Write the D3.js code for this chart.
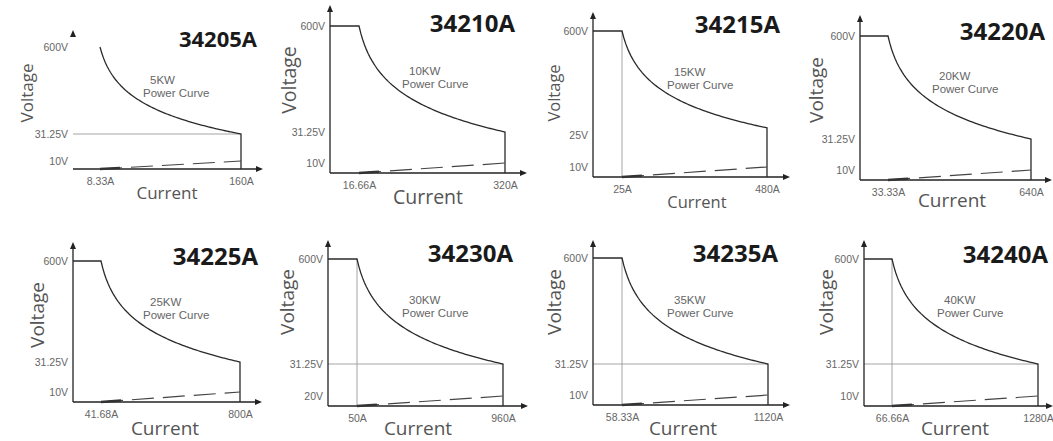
<!DOCTYPE html>
<html><head><meta charset="utf-8">
<script src="https://cdn.jsdelivr.net/npm/d3@7"></script>
<style>
html,body{margin:0;padding:0;background:#fff;}
svg{display:block;}
</style></head><body>
<svg id="chart" width="1053" height="441"></svg>
<script>
// ---- data ----
const models = ["34205A","34210A","34215A","34220A","34225A","34230A","34235A","34240A"];
const powerKW = [5,10,15,20,25,30,35,40];
const topVoltage = [600,600,600,600,600,600,600,600];
const kneeCurrent = [8.33,16.66,25,33.33,41.68,50,58.33,66.66];
const maxCurrent = [160,320,480,640,800,960,1120,1280];
const minVoltage = [31.25,31.25,25,31.25,31.25,31.25,31.25,31.25];
const lowVoltage = [10,10,10,10,10,20,10,10];
const kneeLabels = ["8.33A","16.66A","25A","33.33A","41.68A","50A","58.33A","66.66A"];
const maxLabels = ["160A","320A","480A","640A","800A","960A","1120A","1280A"];
const showMinGrid = [true,false,false,false,false,true,true,true];
const showKneeGrid = [false,false,true,false,false,true,true,true];

// ---- layout (positions & styles only) ----
const layout = [
 {ox:73, ay:169, yTop:47, yMin:134, yLow:161, xKnee:100, xMax:241, tipY:30, tipX:263, titleX:257, titleY:47, titleSize:22, axSize:17, cx:167, cy:199, vx:33, vy:93, pcX:143, kwY:84, yLine:false, flat:false},
 {ox:330, ay:173, yTop:26, yMin:132, yLow:163, xKnee:359, xMax:505, tipY:5, tipX:527, titleX:515, titleY:32, titleSize:24, axSize:19.5, cx:428, cy:204, vx:296, vy:80, pcX:402, kwY:75, yLine:true, flat:true},
 {ox:593, ay:177, yTop:31, yMin:135, yLow:167, xKnee:622, xMax:767, tipY:12, tipX:790, titleX:780, titleY:33, titleSize:24, axSize:16.5, cx:697, cy:208, vx:560, vy:93, pcX:667, kwY:76, yLine:true, flat:true},
 {ox:860, ay:180, yTop:36, yMin:139, yLow:170, xKnee:888, xMax:1031, tipY:15, tipX:1052, titleX:1045, titleY:40, titleSize:24, axSize:19, cx:952, cy:207, vx:823, vy:90, pcX:932, kwY:80, yLine:true, flat:true},
 {ox:73, ay:402, yTop:261, yMin:362, yLow:392, xKnee:101, xMax:240, tipY:242, tipX:262, titleX:258, titleY:265, titleSize:24, axSize:19, cx:165, cy:435, vx:44, vy:315, pcX:143, kwY:306, yLine:true, flat:true},
 {ox:328, ay:406, yTop:259, yMin:364, yLow:396, xKnee:357, xMax:503, tipY:240, tipX:528, titleX:513, titleY:262, titleSize:24, axSize:19, cx:418, cy:435, vx:294, vy:302, pcX:402, kwY:304, yLine:true, flat:true},
 {ox:593, ay:405, yTop:258, yMin:364, yLow:395, xKnee:622, xMax:768, tipY:240, tipX:790, titleX:778, titleY:262, titleSize:24, axSize:19, cx:683, cy:435, vx:561, vy:302, pcX:667, kwY:304, yLine:true, flat:true},
 {ox:864, ay:406, yTop:259, yMin:364, yLow:396, xKnee:892, xMax:1038, tipY:240, tipX:1053, titleX:1048, titleY:263, titleSize:24, axSize:19, cx:955, cy:435, vx:833, vy:302, pcX:937, kwY:304, yLine:true, flat:true}
];

const svg = d3.select("#chart");
const labelFont = "'Liberation Sans', Arial, sans-serif";
const bigFont = "'Open Sans', 'Noto Sans', sans-serif";

models.forEach((model, i) => {
  const L = layout[i];
  const g = svg.append("g");
  const x = d3.scaleLinear()
    .domain([0, kneeCurrent[i], maxCurrent[i]])
    .range([L.ox, L.xKnee, L.xMax]);
  const y = d3.scaleSymlog().constant(1)
    .domain([0, lowVoltage[i], minVoltage[i], topVoltage[i]])
    .range([L.ay, L.yLow, L.yMin, L.yTop]);
  const line = d3.line().x(d => x(d[0])).y(d => y(d[1]));

  // grid lines
  if (showMinGrid[i]) {
    g.append("path").attr("d", line([[0, minVoltage[i]], [maxCurrent[i], minVoltage[i]]]))
      .attr("stroke", "#9a9a9a").attr("stroke-width", 0.9).attr("fill", "none");
  }
  if (showKneeGrid[i]) {
    g.append("path").attr("d", line([[kneeCurrent[i], 0], [kneeCurrent[i], topVoltage[i]]]))
      .attr("stroke", "#9a9a9a").attr("stroke-width", 0.9).attr("fill", "none");
  }

  // axes lines with arrows
  g.append("path").attr("d", line([[0, 0], [x.invert(L.tipX - 2), 0]]))
    .attr("stroke", "#222").attr("stroke-width", 1.3).attr("fill", "none");
  g.append("path")
    .attr("d", `M${L.tipX},${y(0)} L${L.tipX - 7},${y(0) - 3} L${L.tipX - 7},${y(0) + 3} Z`)
    .attr("fill", "#222");
  if (L.yLine) {
    g.append("path").attr("d", `M${x(0)},${y(0)} L${x(0)},${L.tipY + 2}`)
      .attr("stroke", "#222").attr("stroke-width", 1.3).attr("fill", "none");
  }
  g.append("path")
    .attr("d", `M${x(0)},${L.tipY} L${x(0) - 3},${L.tipY + 7} L${x(0) + 3},${L.tipY + 7} Z`)
    .attr("fill", "#222");

  // operating envelope: flat top, constant-power curve, drop at max current
  const P = powerKW[i] * 1000;
  const nSamples = 80;
  const curvePts = d3.range(nSamples + 1).map(k => {
    const I = kneeCurrent[i] + (maxCurrent[i] - kneeCurrent[i]) * k / nSamples;
    return [I, P / I];
  });
  curvePts[0][1] = topVoltage[i];
  let env = [];
  if (L.flat) env.push([0, topVoltage[i]]);
  env = env.concat(curvePts);
  env.push([maxCurrent[i], 0]);
  g.append("path").attr("d", line(env))
    .attr("stroke", "#2a2a2a").attr("stroke-width", 1.3).attr("fill", "none");

  // dashed low-voltage line
  const lowPts = [[kneeCurrent[i], 0], [maxCurrent[i], lowVoltage[i]]];
  g.append("path").attr("d", line(lowPts))
    .attr("stroke", "#444").attr("stroke-width", 1.2).attr("fill", "none")
    .attr("stroke-dasharray", "22,9");
  g.append("path").attr("d", line(lowPts))
    .attr("stroke", "#333").attr("stroke-width", 2.4).attr("fill", "none")
    .attr("stroke-dasharray", "20,2000");

  // y tick labels
  const yAxis = d3.axisLeft(y)
    .tickValues([topVoltage[i], minVoltage[i], lowVoltage[i]])
    .tickFormat(d => d + "V").tickSize(0).tickPadding(5);
  const ya = g.append("g").attr("transform", `translate(${x(0)},0)`).call(yAxis);
  ya.select(".domain").remove();
  ya.selectAll("text").attr("font-family", labelFont).attr("font-size", 10.5).attr("fill", "#666");

  // x tick labels
  const xlabels = [kneeLabels[i], maxLabels[i]];
  const xAxis = d3.axisBottom(x)
    .tickValues([kneeCurrent[i], maxCurrent[i]])
    .tickFormat((d, k) => xlabels[k]).tickSize(0).tickPadding(9);
  const xa = g.append("g").attr("transform", `translate(0,${y(0)})`).call(xAxis);
  xa.select(".domain").remove();
  xa.selectAll("text").attr("font-family", labelFont).attr("font-size", 10.5).attr("fill", "#666");

  // axis titles
  g.append("text").text("Current")
    .attr("x", L.cx).attr("y", L.cy)
    .attr("text-anchor", "middle").attr("font-family", bigFont)
    .attr("font-size", L.axSize).attr("fill", "#555");
  g.append("text").text("Voltage")
    .attr("transform", `translate(${L.vx},${L.vy}) rotate(-90)`)
    .attr("text-anchor", "middle").attr("font-family", bigFont)
    .attr("font-size", L.axSize).attr("fill", "#555");

  // model title
  g.append("text").text(model)
    .attr("x", L.titleX).attr("y", L.titleY).attr("text-anchor", "end")
    .attr("font-family", bigFont).attr("font-weight", 700)
    .attr("font-size", L.titleSize).attr("fill", "#1a1a1a");

  // power curve label
  g.append("text").text(powerKW[i] + "KW")
    .attr("x", L.pcX + 7).attr("y", L.kwY)
    .attr("font-family", labelFont).attr("font-size", 11.5).attr("fill", "#666");
  g.append("text").text("Power Curve")
    .attr("x", L.pcX).attr("y", L.kwY + 13)
    .attr("font-family", labelFont).attr("font-size", 11.5).attr("fill", "#666");
});
</script>
</body></html>
